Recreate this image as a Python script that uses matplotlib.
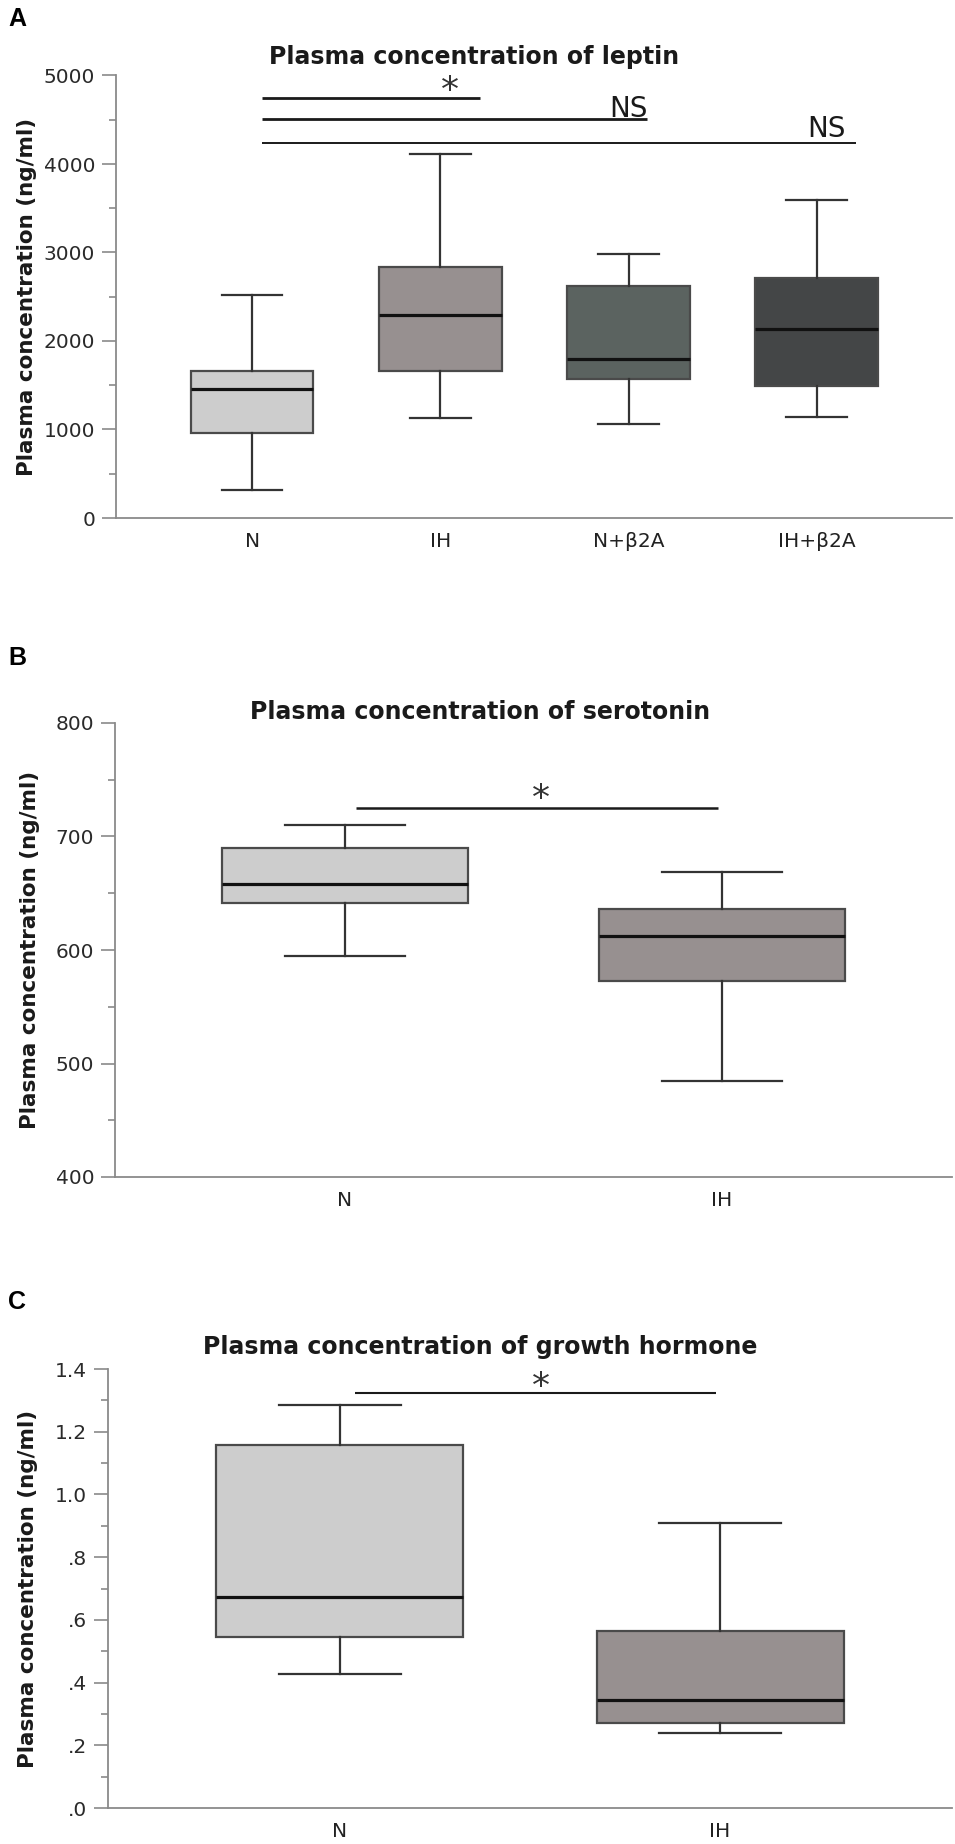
import matplotlib
matplotlib.use("Agg")
import matplotlib.pyplot as plt
from matplotlib.ticker import MultipleLocator, FixedLocator

plt.rcParams['font.family'] = ['DejaVu Sans']

# ---------------- data ----------------
leptin_groups = ["N", "IH", "N+\u03b22A", "IH+\u03b22A"]
# whisker low, Q1, median, Q3, whisker high
leptin_lo  = [320, 1131, 1065, 1142]
leptin_q1  = [965, 1663, 1565, 1495]
leptin_med = [1455, 2292, 1795, 2138]
leptin_q3  = [1658, 2835, 2616, 2714]
leptin_hi  = [2515, 4113, 2986, 3593]
leptin_colors = ["#cdcdcd", "#979090", "#5b6360", "#444647"]
leptin_yticks = [0, 1000, 2000, 3000, 4000, 5000]
leptin_yticklabels = ["0", "1000", "2000", "3000", "4000", "5000"]

sero_groups = ["N", "IH"]
sero_lo  = [595, 485]
sero_q1  = [641, 573]
sero_med = [658, 612]
sero_q3  = [690, 636]
sero_hi  = [710, 669]
sero_colors = ["#cdcdcd", "#979090"]
sero_yticks = [400, 500, 600, 700, 800]
sero_yticklabels = ["400", "500", "600", "700", "800"]

gh_groups = ["N", "IH"]
gh_lo  = [0.428, 0.238]
gh_q1  = [0.545, 0.270]
gh_med = [0.672, 0.345]
gh_q3  = [1.157, 0.565]
gh_hi  = [1.285, 0.910]
gh_colors = ["#cdcdcd", "#979090"]
gh_yticks = [0.0, 0.2, 0.4, 0.6, 0.8, 1.0, 1.2, 1.4]
gh_yticklabels = [".0", ".2", ".4", ".6", ".8", "1.0", "1.2", "1.4"]

# significance annotations: (x_start, x_end, y_line, label, label_x, label_y)
leptin_sig = [(0.05, 1.21, 4743, "*", 1.05, 4820),
              (0.05, 2.10, 4509, "NS", 2.00, 4625),
              (0.05, 3.21, 4237, "NS", 3.05, 4400)]
sero_sig = [(0.03, 0.99, 724.7, "*", 0.52, 733)]
gh_sig = [(0.04, 0.99, 1.322, "*", 0.53, 1.343)]

titles = ["Plasma concentration of leptin",
          "Plasma concentration of serotonin",
          "Plasma concentration of growth hormone"]
ylabel = "Plasma concentration (ng/ml)"

# ---------------- figure ----------------
W, H = 955, 1844
fig = plt.figure(figsize=(W / 100, H / 100), dpi=100)


def rect(l, r, t, b):
    return [l / W, 1 - b / H, (r - l) / W, (b - t) / H]


def panel(r, groups, lo, q1, med, q3, hi, colors, yticks, yticklabels,
          minor, xlim, sig, ylab_x, lw_sig):
    ax = fig.add_axes(r)
    stats = []
    for i in range(len(groups)):
        stats.append(dict(whislo=lo[i], q1=q1[i], med=med[i], q3=q3[i],
                          whishi=hi[i], fliers=[], label=groups[i]))
    bp = ax.bxp(stats, positions=list(range(len(groups))), widths=0.65,
                capwidths=0.32, patch_artist=True, showfliers=False,
                boxprops=dict(edgecolor="#4a4a4a", linewidth=1.6),
                whiskerprops=dict(color="#333333", linewidth=1.6),
                capprops=dict(color="#333333", linewidth=1.6),
                medianprops=dict(color="#111111", linewidth=2.3))
    for patch, c in zip(bp["boxes"], colors):
        patch.set_facecolor(c)
    ax.set_xlim(*xlim)
    ax.set_ylim(yticks[0], yticks[-1])
    ax.yaxis.set_major_locator(FixedLocator(yticks))
    ax.set_yticklabels(yticklabels)
    ax.yaxis.set_minor_locator(MultipleLocator(minor))
    for s in ["top", "right"]:
        ax.spines[s].set_visible(False)
    for s in ["left", "bottom"]:
        ax.spines[s].set_color("#8a8a8a")
        ax.spines[s].set_linewidth(1.3)
    ax.tick_params(axis="y", which="major", length=10, width=1.2,
                   color="#8a8a8a", labelsize=14.5, labelcolor="#2a2a2a", pad=5)
    ax.tick_params(axis="y", which="minor", length=5, width=1.2, color="#8a8a8a")
    ax.tick_params(axis="x", length=0, labelsize=14.5, labelcolor="#222222", pad=10)
    ax.set_ylabel(ylabel, fontsize=15.5, fontweight="bold", color="#1a1a1a")
    ax.yaxis.set_label_coords(ylab_x, 0.5)
    for (x0, x1, y, lab, lx, ly) in sig:
        ax.plot([x0, x1], [y, y], color="#1a1a1a", linewidth=lw_sig.pop(0),
                solid_capstyle="butt", clip_on=False)
        if lab == "*":
            ax.text(lx, ly, lab, fontsize=26, ha="center", va="center",
                    color="#333333")
        else:
            ax.text(lx, ly, lab, fontsize=20, ha="center", va="center",
                    color="#1a1a1a")
    return ax


panel(rect(116, 952, 75.5, 518), leptin_groups, leptin_lo, leptin_q1,
      leptin_med, leptin_q3, leptin_hi, leptin_colors, leptin_yticks,
      leptin_yticklabels, 500, (-0.725, 3.72), leptin_sig, -0.094, [2.0, 2.0, 1.4])
panel(rect(115, 952, 723, 1177), sero_groups, sero_lo, sero_q1, sero_med,
      sero_q3, sero_hi, sero_colors, sero_yticks, sero_yticklabels, 50,
      (-0.61, 1.61), sero_sig, -0.090, [1.8])
panel(rect(108, 952, 1369, 1808), gh_groups, gh_lo, gh_q1, gh_med, gh_q3,
      gh_hi, gh_colors, gh_yticks, gh_yticklabels, 0.1, (-0.61, 1.61),
      gh_sig, -0.083, [1.5])

title_pos = [(474, 57), (480, 712), (480, 1347)]
for t, (x, y) in zip(titles, title_pos):
    fig.text(x / W, 1 - y / H, t, fontsize=17, fontweight="bold",
             ha="center", va="center", color="#1a1a1a")

for lab, y in zip(["A", "B", "C"], [19, 658, 1302]):
    fig.text(8 / W, 1 - y / H, lab, fontsize=18, fontweight="bold",
             family=["Liberation Sans", "DejaVu Sans"],
             ha="left", va="center", color="#000000")

fig.savefig("out.png", dpi=100)
